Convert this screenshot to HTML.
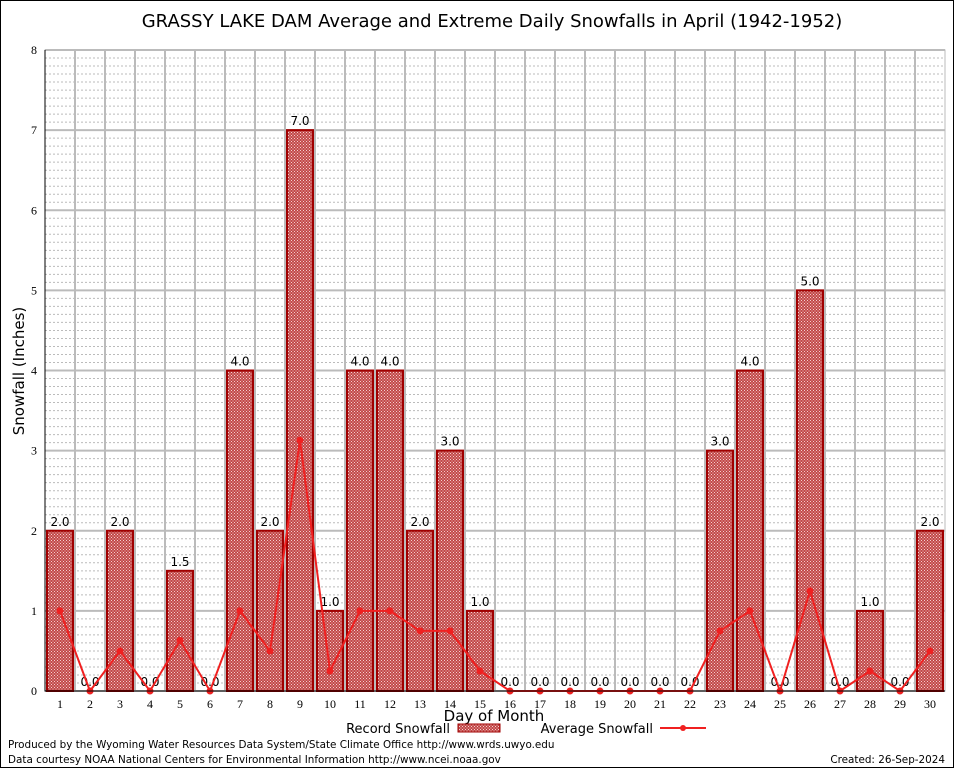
<!DOCTYPE html>
<html><head><meta charset="utf-8"><style>
body{margin:0;background:#fff}
svg{display:block;font-family:"DejaVu Sans","Liberation Sans",sans-serif}
</style></head><body>
<svg id="chart" width="954" height="768" viewBox="0 0 954 768">
<defs><pattern id="chk" width="3" height="3" patternUnits="userSpaceOnUse"><rect width="3" height="3" fill="#c24848"/><rect width="1" height="1" fill="#f4d0d0"/><rect x="1.5" y="1.5" width="1" height="1" fill="#f4d0d0"/></pattern></defs>
<rect x="0.5" y="0.5" width="953" height="767" fill="#fff" stroke="#000"/>
<text x="492" y="27" font-size="18" text-anchor="middle">GRASSY LAKE DAM Average and Extreme Daily Snowfalls in April (1942-1952)</text>
<g id="grid"></g><g id="bars"></g><g id="line"></g><g id="axes"></g>
<text transform="translate(24,371) rotate(-90)" font-size="15" text-anchor="middle">Snowfall (Inches)</text>
<text x="494" y="721" font-size="15" text-anchor="middle">Day of Month</text>
<g font-size="13">
<text x="450" y="733" text-anchor="end">Record Snowfall</text>
<rect x="458" y="724" width="42" height="8" fill="url(#chk)" stroke="#a00000"/>
<text x="653" y="733" text-anchor="end">Average Snowfall</text>
<line x1="660" y1="728" x2="706" y2="728" stroke="#f02020" stroke-width="2"/>
<circle cx="683" cy="728" r="3" fill="#f02020"/>
</g>
<text x="8" y="748" font-size="10.4">Produced by the Wyoming Water Resources Data System/State Climate Office http://www.wrds.uwyo.edu</text>
<text x="8" y="763" font-size="10.4">Data courtesy NOAA National Centers for Environmental Information http://www.ncei.noaa.gov</text>
<text x="945" y="763" font-size="10.4" text-anchor="end">Created:  26-Sep-2024</text>
</svg>
<script>
const days=[1,2,3,4,5,6,7,8,9,10,11,12,13,14,15,16,17,18,19,20,21,22,23,24,25,26,27,28,29,30];
const recordSnow=[2,0,2,0,1.5,0,4,2,7,1,4,4,2,3,1,0,0,0,0,0,0,0,3,4,0,5,0,1,0,2];
const avgSnow=[1,0,0.5,0,0.63,0,1,0.5,3.13,0.25,1,1,0.75,0.75,0.25,0,0,0,0,0,0,0,0.75,1,0,1.25,0,0.25,0,0.5];
const yTicks=[0,1,2,3,4,5,6,7,8];
const NS="http://www.w3.org/2000/svg";
const L=45,R=945,T=50,B=691,yMax=8;
const slot=(R-L)/days.length;
const x=d=>L+slot*(d-0.5);
const y=v=>B-(v/yMax)*(B-T);
function mk(p,tag,a){const e=document.createElementNS(NS,tag);for(const k in a)e.setAttribute(k,a[k]);p.appendChild(e);return e;}
const grid=document.getElementById('grid'),bars=document.getElementById('bars'),line=document.getElementById('line'),axes=document.getElementById('axes');
for(let v=0;v<yMax*10;v++){if(v%10===0)continue;const l=mk(grid,'line',{x1:L,x2:R,y1:y(v/10),y2:y(v/10),stroke:'#bbb','stroke-dasharray':'2,2','stroke-width':1});

}
yTicks.forEach(v=>{const l=mk(grid,'line',{x1:L,x2:R,y1:y(v),y2:y(v),stroke:'#bbb','stroke-width':2});


const t=mk(axes,'text',{x:L-8,y:y(v)+4,'font-size':12,'text-anchor':'end','font-family':'Liberation Serif, serif'});t.textContent=v;

});
for(let i=1;i<days.length;i++){const l=mk(grid,'line',{x1:L+slot*i,x2:L+slot*i,y1:T,y2:B,stroke:'#bbb','stroke-width':2});

}
const fr=mk(grid,'rect',{x:L,y:T,width:R-L,height:B-T,fill:'none',stroke:'#bbb','stroke-width':1});


days.forEach((d,i)=>{const v=recordSnow[i];
if(v>0){const r=mk(bars,'rect',{x:x(d)-13,y:y(v),width:26,height:B-y(v),fill:'url(#chk)',stroke:'#a00000','stroke-width':2});

}
const t=mk(bars,'text',{x:x(d),y:y(v)-5,'font-size':12,'text-anchor':'middle'});t.textContent=v.toFixed(1);


const xt=mk(axes,'text',{x:x(d),y:B+17,'font-size':12,'text-anchor':'middle','font-family':'Liberation Serif, serif'});xt.textContent=d;

});
const pl=mk(line,'polyline',{points:days.map((d,i)=>x(d)+','+y(avgSnow[i])).join(' '),fill:'none',stroke:'#f02020','stroke-width':2});


days.forEach((d,i)=>{const c=mk(line,'circle',{cx:x(d),cy:y(avgSnow[i]),r:3.5,fill:'#f02020'});

});
const ax=mk(axes,'path',{d:`M${L},${T}V${B}H${R}`,fill:'none',stroke:'#000','stroke-width':1});


</script>
</body></html>
